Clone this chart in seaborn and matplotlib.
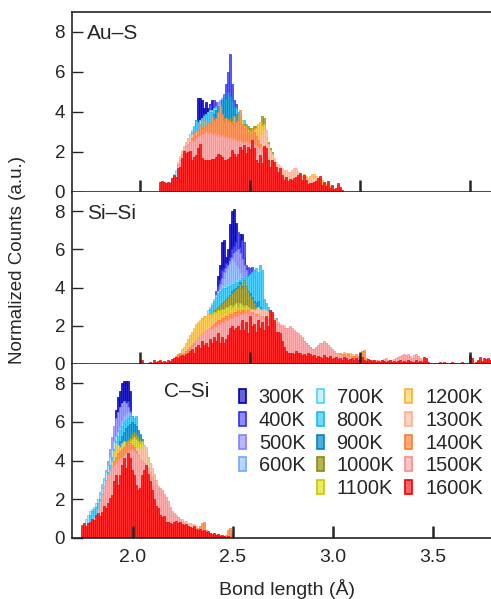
import numpy as np
import pandas as pd
import matplotlib
matplotlib.use("Agg")
import matplotlib.pyplot as plt
import seaborn as sns
from matplotlib.patches import Patch

temps = ["300K", "400K", "500K", "600K", "700K", "800K", "900K",
         "1000K", "1100K", "1200K", "1300K", "1400K", "1500K", "1600K"]
face_colors = ["#2424c8", "#5a5af5", "#a0a0ff", "#a0c8ff", "#b0eaff", "#50d2ff", "#2aa5dc",
               "#b0aa40", "#e0e040", "#ffd060", "#ffc8b0", "#ff9a60", "#ffb0b0", "#ff2a2a"]
edge_colors = ["#0000a8", "#3030f0", "#8080ff", "#70a8ff", "#4fcfff", "#1ab8f0", "#0b80c0",
               "#8a8a10", "#c8c800", "#f8b030", "#ffae90", "#ff7a30", "#ff8a8a", "#f00000"]
legend_faces = ["#6464d4", "#8c8cff", "#b8b8ff", "#b8d6ff", "#cdf3ff", "#70dcff", "#4aaee0",
                "#b4b456", "#ecec68", "#ffe096", "#ffd4bc", "#ffa878", "#ffc4c4", "#ff6262"]

# ---- Au-S (bin left edges in Angstrom, bin width 0.0091) ----
aus_starts = [2.250, 2.241, 2.259, 2.223, 2.132, 2.205, 2.323,
              2.241, 2.241, 2.214, 2.168, 2.205, 2.168, 2.087]
aus_300 = [3.6, 4.7, 4.7, 4.6, 4.2, 4.5, 4.2, 4.4, 4.6, 4.3, 4.0, 3.6, 3.2]
aus_400 = [2.8, 3.1, 3.3, 3.6, 3.4, 3.9, 3.6, 4.0, 4.4, 3.8, 4.6, 4.5, 4.1, 4.2, 4.4, 4.6,
           5.4, 6.0, 6.9, 5.4, 4.6, 4.4, 4.0, 3.6, 3.2, 2.9]
aus_500 = [3.0, 3.2, 3.3, 3.5, 3.6, 3.8, 3.9, 4.0, 4.1, 4.3, 4.5, 4.6, 4.7, 4.8, 4.6, 4.4,
           4.2, 3.9, 3.6, 3.2]
aus_600 = [2.4, 2.7, 3.0, 3.2, 3.3, 3.4, 3.5, 3.6, 3.7, 3.8, 3.9, 4.0, 4.1, 4.2, 4.3, 4.4,
           4.4, 4.5, 4.4, 4.3, 4.1, 3.9, 3.6, 3.3, 3.0]
aus_700 = [0.5, 0.7, 0.9, 1.1, 1.4, 1.7, 2.0, 2.3, 2.5, 2.7, 2.9, 3.1, 3.2, 3.3, 3.5, 3.6,
           3.7, 3.8, 3.9, 4.0, 4.1, 4.1, 4.2, 4.2, 4.3, 4.3, 4.2, 4.1, 4.0, 3.8, 3.6, 3.4,
           3.2, 3.0]
aus_800 = [1.8, 2.2, 2.6, 3.0, 3.3, 3.6, 3.5, 3.4, 3.7, 3.8, 3.9, 3.9, 4.0, 4.0, 4.1, 4.1,
           4.2, 4.3, 4.4, 4.4, 4.5, 4.6, 4.5, 4.4, 4.3, 4.2, 4.0, 3.8, 3.5, 3.6, 3.4, 3.1,
           2.8, 2.5]
aus_900 = [3.6, 3.9, 4.1, 4.3, 4.2, 4.6, 4.9, 4.7, 5.0, 4.8, 4.6, 4.3, 3.9, 3.5]
aus_1000 = [2.6, 2.9, 3.0, 3.1, 3.2, 3.2, 3.3, 3.3, 3.4, 3.4, 3.5, 3.5, 3.5, 3.6, 3.6, 3.7,
            3.7, 3.6, 3.7, 3.6, 3.6, 3.5, 3.9, 3.5, 3.4, 3.4, 3.3, 3.3, 3.2, 3.2, 3.3, 3.3,
            3.2, 3.3, 3.8, 3.7, 2.8, 2.5, 2.2, 2.0]
aus_1100 = [2.5, 2.8, 2.9, 3.0, 3.1, 3.1, 3.2, 3.2, 3.3, 3.3, 3.4, 3.4, 3.4, 3.5, 3.5, 3.5,
            3.5, 3.4, 3.5, 3.4, 3.4, 3.3, 3.4, 3.2, 3.6, 3.3, 3.1, 3.1, 3.0, 3.0, 3.1, 3.0,
            3.0, 3.1, 3.3, 3.4, 2.6, 2.3, 2.0, 1.8]
aus_1200 = [2.0, 2.3, 2.6, 2.8, 2.9, 3.0, 3.0, 3.1, 3.1, 3.2, 3.2, 3.2, 3.3, 3.3, 3.3, 3.3,
            3.4, 3.3, 3.3, 3.3, 3.2, 3.2, 3.2, 3.1, 3.1, 3.1, 3.0, 3.0, 3.0, 2.9, 2.9, 2.9,
            2.9, 3.0, 3.2, 3.4, 3.5, 3.3, 2.6, 2.2, 1.9, 1.6, 1.4, 1.3, 1.2, 1.1, 1.0, 1.0,
            0.9, 0.9, 0.8, 0.8, 0.8, 0.9, 0.8, 0.7, 0.7, 0.8, 0.9, 0.8, 0.7, 0.8, 0.9, 0.9,
            0.8, 0.6, 0.7, 0.6, 0.5, 0.4, 0.4, 0.3, 0.3]
aus_1300 = [1.5, 1.8, 2.1, 2.3, 2.5, 2.6, 2.8, 2.9, 3.0, 3.0, 3.0, 3.1, 3.1, 3.1, 3.2, 3.1,
            3.2, 3.1, 3.2, 3.1, 3.1, 3.0, 3.1, 3.0, 3.1, 2.9, 3.0, 2.9, 2.9, 2.8, 2.8, 2.8,
            2.8, 2.8, 2.7, 2.7, 2.7, 2.6, 2.7, 2.6, 2.6, 2.7, 2.9, 3.1, 3.1, 2.4, 2.1, 1.9,
            1.7, 1.5, 1.4, 1.3, 1.2, 1.1, 1.1, 1.0, 1.0, 1.1, 1.2, 1.2, 1.0, 0.9, 0.8, 0.8,
            0.7, 0.7, 0.6, 0.8, 0.7, 0.6]
aus_1400 = [1.9, 2.1, 2.4, 2.7, 3.0, 2.8, 3.1, 3.4, 3.2, 3.6, 3.3, 3.5, 3.4, 3.8, 3.6, 3.7,
            4.0, 4.3, 3.9, 3.5, 3.7, 3.6, 3.5, 3.4, 3.8, 3.5, 3.6, 4.1, 3.4, 3.2, 3.3, 3.0,
            2.9, 3.2, 3.0, 2.8, 2.6, 2.4, 2.2, 2.0, 1.8]
aus_1500 = [1.4, 1.6, 1.9, 2.1, 2.3, 2.4, 2.5, 2.6, 2.55, 2.7, 2.8, 2.85, 2.9, 2.95, 3.0, 2.95,
            3.0, 2.9, 2.95, 2.85, 2.9, 2.8, 2.85, 2.75, 2.8, 2.7, 2.75, 2.65, 2.7, 2.6, 2.55,
            2.6, 2.5, 2.45, 2.55, 2.4, 2.5, 2.35, 2.4, 2.3, 2.25, 2.2, 2.1, 2.0, 1.9, 1.7,
            1.5, 1.3, 1.1, 0.9, 0.8, 0.7]
aus_1600 = [0.5, 0.55, 0.5, 0.45, 0.5,
            0.43, 0.68, 0.85, 0.77, 1.18, 1.27, 1.68, 2.07, 1.97, 2.0,
            2.07, 1.6, 1.77, 1.85, 2.18, 2.4, 1.68, 1.6, 1.62, 1.62,
            1.6, 1.67, 1.63, 1.77, 1.9, 1.85, 1.77, 1.6, 1.6, 1.67,
            1.77, 2.1, 1.9, 1.77, 1.88, 2.27, 2.1, 2.35, 1.93, 2.27,
            2.13, 2.6, 2.18, 1.6, 1.43, 1.85, 1.43, 2.3, 2.18, 1.6,
            1.27, 1.6, 1.52, 1.27, 1.02, 1.18, 0.85, 0.6, 0.77, 0.57,
            0.63, 0.6, 0.68, 0.77, 0.85, 0.93, 0.6, 0.85, 0.6, 0.4,
            0.43, 0.47, 0.52, 0.57, 0.68, 0.8, 0.35, 0.52, 0.3, 0.57,
            0.18, 0.35, 0.13, 0.18, 0.43, 0.27, 0.1]

# ---- Si-Si (bin width 0.0091) ----
sisi_starts = [2.350, 2.323, 2.332, 2.332, 2.286, 2.286, 2.350,
               2.305, 2.223, 2.168, 2.168, 2.150, 2.214, 1.986]
sisi_300 = [4.6, 5.2, 6.4, 6.5, 5.6, 6.0, 7.3, 8.0, 8.1, 7.4, 6.2, 6.8, 6.8, 5.6, 4.8]
sisi_400 = [2.8, 3.2, 3.8, 4.1, 4.4, 4.9, 5.0, 5.3, 5.2, 5.6, 6.0, 6.2, 6.4, 6.9, 6.1,
            6.5, 6.4, 5.2, 5.1, 5.0, 5.1, 4.9, 4.4, 3.9, 3.5]
sisi_500 = [3.2, 3.5, 3.8, 4.2, 4.5, 4.8, 5.0, 5.2, 5.4, 5.6, 5.8, 5.9, 6.0, 5.8, 5.5,
            5.2, 4.9, 4.6, 4.3, 4.0]
sisi_600 = [3.0, 3.3, 3.6, 3.9, 4.2, 4.5, 4.8, 5.0, 5.3, 5.5, 5.4, 5.2, 5.0, 4.8, 4.6,
            4.4, 4.2, 4.0, 3.7, 3.4]
sisi_700 = [2.2, 2.5, 2.8, 3.0, 3.2, 3.4, 3.6, 3.8, 3.9, 4.0, 4.1, 4.0, 4.2, 4.1, 4.3,
            4.2, 4.4, 4.3, 4.5, 4.4, 4.3, 4.2, 4.0, 3.8, 3.6, 3.4]
sisi_800 = [2.0, 2.3, 2.6, 2.9, 3.1, 3.3, 3.5, 3.7, 3.8, 3.9, 4.0, 4.0, 4.1, 4.1, 4.2,
            4.2, 4.3, 4.3, 4.4, 4.5, 4.5, 4.6, 4.6, 4.7, 4.8, 4.9, 5.0, 4.8, 5.2, 4.9,
            3.4, 3.2, 3.0, 2.8, 2.6, 2.4, 2.4, 2.2]
sisi_900 = [2.8, 3.0, 3.1, 3.3, 3.4, 3.5, 3.6, 3.8, 3.9, 4.0, 4.1, 4.3, 4.1, 4.2, 4.0,
            3.8, 3.7, 3.5, 3.3, 3.2, 3.3, 3.0, 2.8, 2.6, 2.6, 2.5]
sisi_1000 = [2.2, 2.4, 2.6, 2.8, 2.9, 3.0, 3.1, 3.2, 3.3, 3.4, 3.5, 3.6, 3.7, 3.8, 3.9,
             4.0, 4.2, 4.0, 4.4, 4.1, 3.8, 3.6, 3.4, 3.2, 3.0, 2.8, 2.6, 2.4, 2.2, 2.0]
sisi_1100 = [1.2, 1.4, 1.6, 1.8, 2.0, 2.2, 2.4, 2.5, 2.5, 2.6, 2.5, 2.6, 2.7, 2.7, 2.8,
             2.8, 2.9, 2.9, 3.0, 3.0, 3.1, 3.0, 3.1, 3.2, 3.0, 3.2, 3.1, 3.0, 3.1, 3.0,
             2.9, 2.8, 2.8, 2.7, 2.6, 2.5, 2.3, 2.1, 1.9, 1.7]
sisi_1200 = [0.5, 0.6, 0.8, 0.9, 1.1, 1.3, 1.5, 1.7, 1.9, 2.1, 2.2, 2.3, 2.4, 2.5, 2.5,
             2.6, 2.6, 2.5, 2.6, 2.55, 2.5, 2.6, 2.6, 2.7, 2.7, 2.6, 2.7, 2.8, 2.7, 2.8,
             2.8, 2.9, 2.8, 2.9, 2.8, 2.8, 2.7, 2.7, 2.6, 2.6, 2.5, 2.4, 2.3, 2.2, 2.1,
             2.0, 1.9, 1.8, 1.7, 1.6, 1.5, 1.4, 1.3, 1.2, 1.1, 1.0, 0.9, 0.9, 0.8, 0.8,
             0.7, 0.7, 0.6, 0.6, 0.6, 0.5, 0.6, 0.5, 0.5, 0.5, 0.5, 0.4, 0.4, 0.5, 0.5,
             0.4, 0.4, 0.4, 0.3, 0.3, 0.3, 0.4, 0.4, 0.65, 0.6, 0.55, 0.6, 0.5, 0.4, 0.3]
sisi_1300 = [0.4, 0.5, 0.6, 0.7, 0.8, 0.9, 1.0, 1.1, 1.2, 1.3, 1.4, 1.5, 1.6, 1.7, 1.8,
             1.9, 2.0, 2.1, 2.2, 2.2, 2.3, 2.3, 2.4, 2.4, 2.5, 2.5, 2.5, 2.6, 2.6, 2.6,
             2.7, 2.7, 2.7, 2.8, 2.7, 2.8, 2.8, 2.9, 2.8, 2.9, 3.0, 2.9, 2.8, 2.9, 2.8,
             2.7, 2.6, 2.5, 2.4, 2.3, 2.2, 2.1, 2.05, 2.05, 1.9, 1.7, 1.5, 1.3, 1.1, 1.0]
sisi_1400 = [0.3, 0.4, 0.5, 0.55, 0.5, 0.6, 0.7, 0.8, 0.9, 1.0, 1.1, 1.2, 1.3, 1.4, 1.5,
             1.6, 1.7, 1.8, 1.9, 2.0, 2.1, 2.2, 2.3, 2.3, 2.4, 2.4, 2.5, 2.5, 2.6, 2.6,
             2.7, 2.7, 2.8, 2.7, 2.8, 2.8, 2.7, 2.8, 2.7, 2.7, 2.6, 2.6, 2.6, 2.5, 2.5,
             2.4, 2.4, 2.3, 2.2, 2.2, 2.1, 2.05, 2.1, 2.0, 1.9, 1.8, 1.7, 1.6, 1.5, 1.4,
             1.3, 1.3, 1.2, 1.2, 1.3, 1.2, 1.1, 1.0, 0.9, 0.8, 0.8, 0.7, 0.8, 0.9, 0.9,
             0.8, 0.7, 0.7, 0.6, 0.6, 0.5, 0.5, 0.5, 0.6, 0.5, 0.5, 0.4, 0.5, 0.4, 0.4,
             0.4, 0.5, 0.4, 0.5, 0.7, 0.75, 0.3, 0.25, 0.2, 0.2]
sisi_1500 = [0.6, 0.7, 0.9, 1.0, 1.2, 1.4, 1.5, 1.6, 1.7, 1.8, 1.8, 1.9, 1.9, 2.0, 2.0,
             2.1, 2.1, 2.2, 2.2, 2.3, 2.3, 2.4, 2.4, 2.5, 2.5, 2.5, 2.6, 2.6, 2.6, 2.7,
             2.6, 2.7, 2.6, 2.6, 2.5, 2.6, 2.5, 2.5, 2.4, 2.4, 2.3, 2.3, 2.2, 2.2, 2.1,
             2.1, 2.0, 2.0, 1.9, 1.9, 1.9, 2.0, 1.9, 1.8, 1.7, 1.6, 1.5, 1.4, 1.2, 1.1,
             1.0, 0.9, 0.8, 0.8, 0.9, 1.0, 1.1, 1.1, 1.2, 1.1, 1.0, 0.9, 0.8, 0.7, 0.6,
             0.55, 0.5, 0.45, 0.4, 0.4, 0.35, 0.4, 0.35, 0.3, 0.3, 0.3, 0.25, 0.3, 0.25, 0.2,
             0.25, 0.2, 0.2, 0.15, 0.2, 0.2, 0.15, 0.2, 0.25, 0.3, 0.2, 0.15, 0.2, 0.25, 0.3,
             0.35, 0.4, 0.45, 0.5, 0.45, 0.5, 0.4, 0.3, 0.45, 0.5, 0.4, 0.3, 0.2, 0.15, 0.1]
sisi_1600 = [0.0, 0.05, 0.2, 0.05, 0.0, 0.05, 0.1, 0.05, 0.2, 0.1,
             0.15, 0.2, 0.1, 0.15, 0.1, 0.2, 0.15, 0.25, 0.3, 0.35,
             0.3, 0.4, 0.45, 0.4, 0.5, 0.55, 0.7, 0.8, 0.6, 0.9,
             1.0, 0.85, 1.2, 1.0, 1.1, 0.9, 1.3, 1.1, 1.4, 1.2,
             1.6, 1.1, 1.4, 1.1, 1.3, 1.5, 1.9, 2.0, 1.8, 1.9,
             2.0, 1.8, 2.3, 1.8, 2.2, 1.6, 2.5, 2.0, 2.1, 1.7,
             2.3, 1.9, 2.2, 1.8, 2.5, 2.0, 2.84, 2.7, 2.3, 1.7,
             1.65, 1.6, 1.2, 0.9, 0.7, 0.6, 0.55, 0.6, 0.5, 0.7,
             0.55, 0.6, 0.45, 0.5, 0.4, 0.55, 0.5, 0.4, 0.45, 0.3,
             0.4, 0.35, 0.3, 0.45, 0.35, 0.3, 0.4, 0.25, 0.3, 0.35,
             0.25, 0.3, 0.2, 0.35, 0.3, 0.2, 0.25, 0.3, 0.2, 0.3,
             0.2, 0.25, 0.35, 0.2, 0.15, 0.25, 0.2, 0.15, 0.2, 0.1,
             0.15, 0.1, 0.2, 0.15, 0.1, 0.15, 0.2, 0.1, 0.15, 0.1,
             0.15, 0.2, 0.1, 0.15, 0.1, 0.2, 0.15, 0.1, 0.1, 0.2,
             0.1, 0.15, 0.1, 0.35, 0.3, 0.1, 0.05, 0.0, 0.05, 0.0,
             0.05, 0.1, 0.05, 0.1, 0.05, 0.0, 0.05, 0.1, 0.05, 0.05,
             0.0, 0.05, 0.1, 0.05, 0.0, 0.05, 0.45, 0.3, 0.05, 0.1,
             0.2, 0.35, 0.15, 0.3, 0.25, 0.3, 0.2, 0.4, 0.45, 0.5]

# ---- C-Si (bin width 0.01) ----
csi_starts = [1.91, 1.88, 1.85, 1.82, 1.76, 1.78, 1.88,
              1.90, 1.86, 1.82, 1.82, 1.82, 1.78, 1.74]
csi_300 = [6.6, 7.3, 7.6, 8.0, 8.1, 8.1, 8.1, 7.6, 6.0]
csi_400 = [3.8, 4.4, 5.0, 5.6, 6.0, 6.4, 6.8, 7.0, 6.8, 7.1, 6.6, 6.3, 5.9, 5.3]
csi_500 = [3.0, 3.5, 4.0, 4.6, 5.2, 5.8, 6.2, 6.5, 6.8, 7.0, 7.1, 7.0, 6.8, 6.5, 6.2,
           5.8, 5.3, 4.8]
csi_600 = [2.0, 2.4, 2.8, 3.1, 3.4, 3.6, 3.9, 4.2, 4.6, 5.0, 5.4, 5.8, 6.1, 6.3, 6.4,
           6.5, 6.4, 6.2, 6.0, 5.7, 5.3, 4.9, 4.4, 4.0]
csi_700 = [1.0, 1.2, 1.4, 1.5, 1.6, 1.8, 2.0, 2.3, 2.6, 3.0, 3.4, 3.8, 4.2, 4.6, 5.0,
           5.3, 5.5, 5.7, 5.9, 6.0, 6.1, 6.2, 6.1, 6.0, 5.8, 5.5, 5.1, 4.7]
csi_800 = [1.2, 1.4, 1.5, 1.6, 1.8, 2.0, 2.3, 2.6, 3.0, 3.4, 3.8, 4.2, 4.6, 5.0, 5.3,
           5.6, 5.8, 6.0, 6.1, 6.2, 6.3, 6.3, 6.2, 6.3, 5.5, 5.2, 4.9, 4.5, 4.1, 3.7,
           3.3, 2.9, 2.6, 2.3, 2.0]
csi_900 = [3.0, 3.4, 3.8, 4.2, 4.6, 5.0, 5.3, 5.5, 5.7, 5.8, 5.9, 6.0, 5.9, 5.8, 5.6,
           5.4, 5.1, 4.8, 4.4, 4.0]
csi_1000 = [3.5, 3.8, 4.1, 4.4, 4.6, 4.8, 5.0, 5.1, 5.2, 5.4, 5.5, 5.4, 5.3, 5.1, 4.9,
            4.6, 4.3, 4.0, 3.6, 3.2]
csi_1100 = [2.8, 3.1, 3.4, 3.7, 4.0, 4.2, 4.4, 4.5, 4.6, 4.7, 4.8, 4.9, 5.0, 5.1, 5.2,
            5.1, 5.0, 4.9, 5.0, 4.8, 4.5, 4.2, 3.9, 3.6, 3.3, 3.0, 2.7, 2.4, 2.1, 1.9,
            1.7, 1.5, 1.3, 1.2, 1.1, 1.0, 0.9, 0.8, 0.75, 0.7, 0.65, 0.7, 0.75, 0.6, 0.4]
csi_1200 = [1.0, 1.3, 1.7, 2.1, 2.5, 3.0, 3.5, 4.0, 4.5, 4.9, 4.8, 4.7, 4.9, 5.0, 4.8,
            4.9, 4.8, 4.9, 4.8, 4.7, 4.6, 4.5, 4.4, 4.3, 4.2, 4.0, 3.8, 3.5, 3.2, 2.9,
            2.6, 2.3, 2.0, 1.8, 1.6, 1.4, 1.3, 1.2, 1.1, 1.0]
csi_1300 = [0.9, 1.2, 1.6, 2.0, 2.4, 2.8, 3.2, 3.5, 3.8, 4.0, 4.1, 4.2, 4.3, 4.4, 4.5,
            4.6, 4.6, 4.6, 4.7, 4.7, 4.7, 4.6, 4.7, 4.8, 4.7, 4.0, 3.9, 3.6, 3.3, 3.0,
            2.7, 2.4, 2.1, 1.8, 1.6, 1.5, 1.4, 1.3, 1.2, 1.1, 1.1, 1.0, 1.0, 0.9, 0.9,
            0.8, 0.8, 0.7, 0.7, 0.6]
csi_1400 = [1.0, 1.3, 1.7, 2.1, 2.5, 2.9, 3.3, 3.7, 4.0, 4.2, 4.4, 4.5, 4.6, 4.7, 4.8,
            5.0, 4.9, 4.8, 4.7, 4.5, 4.3, 4.0, 3.9, 3.7, 3.5, 3.2, 3.0, 2.8, 2.5, 2.3,
            2.1, 1.9, 1.7, 1.5, 1.3, 1.2, 1.1, 1.0, 0.9, 0.8, 0.8, 0.7, 0.7, 0.65, 0.6,
            0.6, 0.55, 0.5, 0.5, 0.45, 0.5, 0.6, 0.8, 0.85, 0.4, 0.3, 0.25, 0.2, 0.2, 0.15,
            0.2, 0.15, 0.1, 0.1, 0.15, 0.4, 0.5, 0.3]
csi_1500 = [0.9, 1.0, 1.1, 1.2, 1.5, 1.9, 2.3, 2.7, 3.0, 3.3, 3.5, 3.7, 3.8, 3.9, 4.0,
            4.1, 4.2, 4.3, 4.4, 4.5, 4.5, 4.6, 4.5, 4.4, 4.3, 4.1, 4.0, 3.9, 3.8, 3.6,
            3.4, 3.2, 3.0, 2.8, 2.6, 2.6, 2.5, 2.3, 2.1, 1.9, 1.6, 1.4, 1.3, 1.2, 1.1,
            1.0, 0.9, 0.8, 0.7, 0.6, 0.5, 0.45, 0.4, 0.35]
csi_1600 = [0.66, 0.77, 0.6, 0.77, 0.85, 0.99, 0.95, 1.2, 1.28, 1.15,
            1.37, 1.63, 1.55, 1.8, 2.07, 2.23, 2.93, 3.27, 2.76, 3.27,
            3.8, 4.14, 3.62, 4.4, 4.14, 3.53, 3.27, 2.76, 2.5, 2.6,
            3.27, 3.53, 3.8, 3.3, 2.93, 2.5, 2.0, 1.63, 1.55, 1.2,
            1.1, 1.15, 0.85, 0.85, 0.77, 0.7, 0.85, 0.9, 0.8, 0.85,
            0.7, 0.65, 0.7, 0.6, 0.55, 0.5, 0.6, 0.45, 0.4, 0.45,
            0.35, 0.4, 0.3, 0.35, 0.25, 0.2, 0.25, 0.15, 0.2, 0.1,
            0.15, 0.1, 0.05, 0.1]

panels = [
    ("Au\u2013S", aus_starts,
     [aus_300, aus_400, aus_500, aus_600, aus_700, aus_800, aus_900,
      aus_1000, aus_1100, aus_1200, aus_1300, aus_1400, aus_1500, aus_1600]),
    ("Si\u2013Si", sisi_starts,
     [sisi_300, sisi_400, sisi_500, sisi_600, sisi_700, sisi_800, sisi_900,
      sisi_1000, sisi_1100, sisi_1200, sisi_1300, sisi_1400, sisi_1500, sisi_1600]),
    ("C\u2013Si", csi_starts,
     [csi_300, csi_400, csi_500, csi_600, csi_700, csi_800, csi_900,
      csi_1000, csi_1100, csi_1200, csi_1300, csi_1400, csi_1500, csi_1600]),
]
bin_widths = [0.0091, 0.0091, 0.01]
x_limits = [(1.691, 3.596), (1.691, 3.596), (1.695, 3.79)]
label_pos = [(0.036, 0.88), (0.036, 0.875), (0.22, 0.84)]

sns.set_style("ticks")
plt.rcParams["font.family"] = ["Liberation Sans", "DejaVu Sans"]
plt.rcParams["axes.axisbelow"] = False

fig = plt.figure(figsize=(4.91, 5.99), dpi=100)
gs = fig.add_gridspec(3, 1, height_ratios=[180, 172, 174], hspace=0,
                      left=72 / 491, right=1.0, top=1 - 12 / 599, bottom=1 - 538 / 599)

for i, (name, starts, series) in enumerate(panels):
    ax = fig.add_subplot(gs[i])
    w = bin_widths[i]
    for j, vals in enumerate(series):
        vals = np.asarray(vals, dtype=float)
        n = len(vals)
        df = pd.DataFrame({"x": starts[j] + w * (np.arange(n) + 0.5), "h": vals})
        sns.histplot(data=df, x="x", weights="h", binwidth=w,
                     binrange=(starts[j], starts[j] + w * n), ax=ax,
                     color=face_colors[j], edgecolor=edge_colors[j],
                     linewidth=0.5, alpha=1.0, legend=False)
    ax.set_axisbelow(False)
    ax.set_xlim(*x_limits[i])
    ax.set_ylim(0, 9)
    ax.set_xticks([2.0, 2.5, 3.0, 3.5])
    ax.set_yticks([0, 2, 4, 6, 8])
    ax.set_xlabel("")
    ax.set_ylabel("")
    ax.tick_params(axis="x", direction="in", length=9, width=1.8, labelsize=14, pad=8,
                   labelbottom=(i == 2), top=False)
    ax.tick_params(axis="y", direction="in", length=8, width=1.0, labelsize=13.5, pad=5)
    ax.spines["right"].set_visible(False)
    ax.spines["top"].set_visible(i == 0)
    for s in ["left", "bottom", "top"]:
        ax.spines[s].set_linewidth(1.2)
    ax.text(label_pos[i][0], label_pos[i][1], name, transform=ax.transAxes,
            fontsize=15, va="center", ha="left")
    if i == 2:
        handles = []
        labels = []
        for j, t in enumerate(temps):
            handles.append(Patch(facecolor=legend_faces[j], edgecolor=edge_colors[j], linewidth=1.2))
            labels.append(t)
            if t == "600K":
                handles.append(Patch(visible=False))
                labels.append("000K")
        leg = ax.legend(handles, labels, ncol=3, loc="upper left", bbox_to_anchor=(0.398, 0.86),
                        frameon=False, fontsize=14.4, handlelength=0.35, handleheight=0.7,
                        handletextpad=0.65, columnspacing=0.55, labelspacing=0.18,
                        borderaxespad=0, borderpad=0)
        leg.get_texts()[4].set_visible(False)

fig.text(0.035, 0.566, "Normalized Counts (a.u.)", rotation=90, fontsize=13.5,
         ha="center", va="center")
fig.text(0.585, 0.016, "Bond length (\u00c5)", fontsize=14, ha="center", va="center")

fig.savefig("out.png", dpi=100)
